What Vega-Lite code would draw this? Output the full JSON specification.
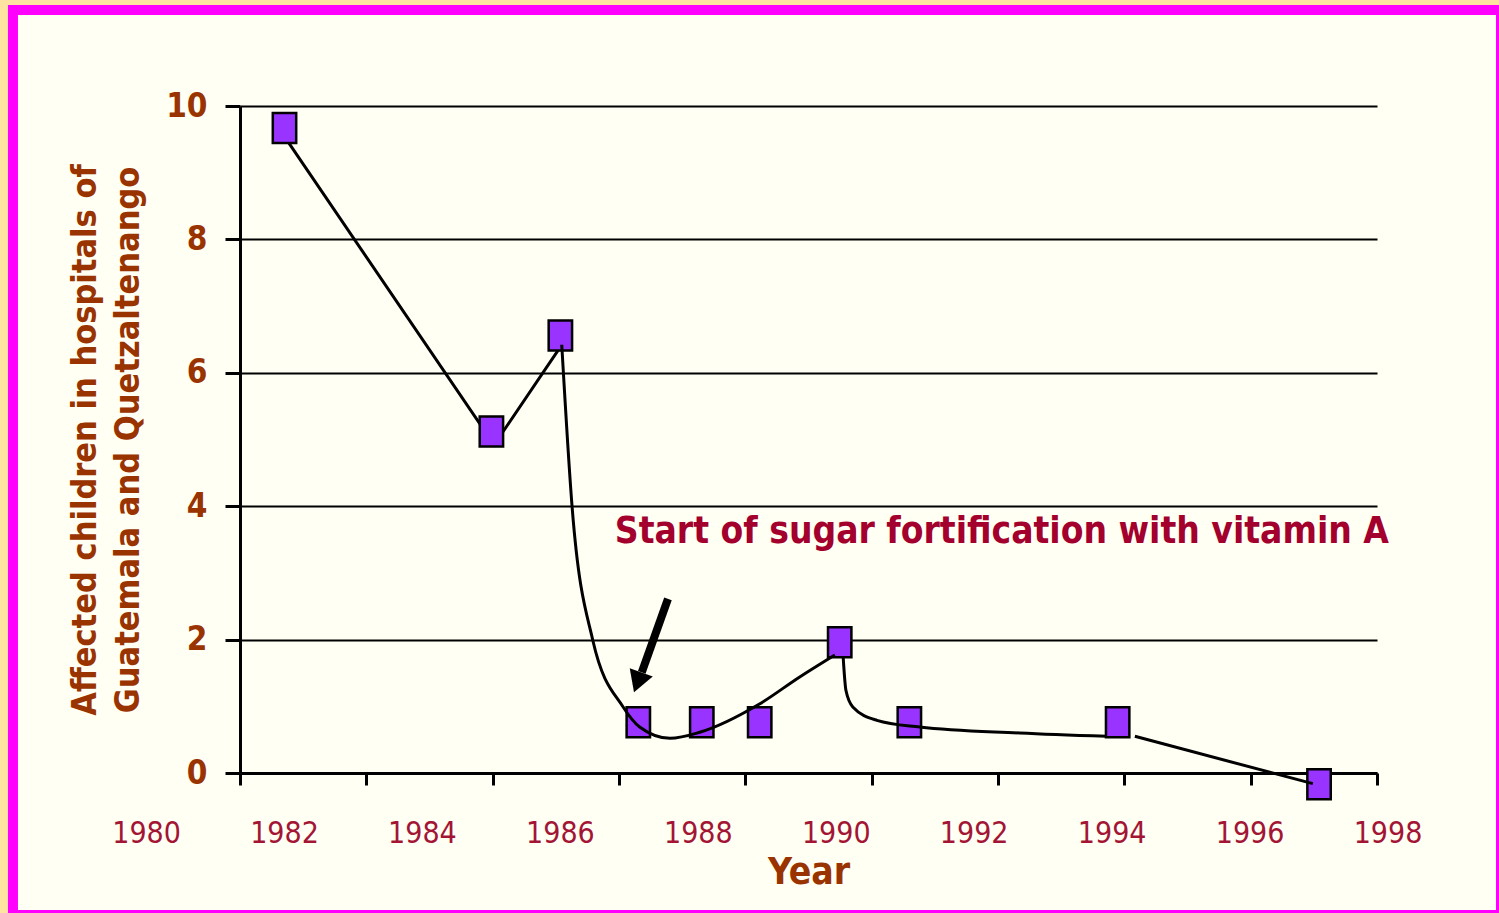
{
  "$schema": "https://vega.github.io/schema/vega-lite/v6.json",
  "width": 1137,
  "height": 667,
  "autosize": {"type": "none"},
  "padding": {"left": 240, "top": 106, "right": 122, "bottom": 140},
  "background": "#FFFFF4",
  "config": {
    "view": {"stroke": null},
    "font": "DejaVu Sans Condensed, DejaVu Sans, sans-serif"
  },
  "datasets": {
    "frame": [
      {"name": "outer", "year": 1977.875, "year2": 1999.91, "value": 11.634, "value2": -2.43},
      {"name": "border", "year": 1978.063, "year2": 1999.638, "value": 11.44, "value2": -2.13}
    ],
    "markers": [
      {"year": 1982.0, "value": 9.67},
      {"year": 1985.0, "value": 5.12},
      {"year": 1986.0, "value": 6.56},
      {"year": 1987.13, "value": 0.76},
      {"year": 1988.05, "value": 0.76},
      {"year": 1988.89, "value": 0.76},
      {"year": 1990.05, "value": 1.96},
      {"year": 1991.06, "value": 0.76},
      {"year": 1994.08, "value": 0.76},
      {"year": 1997.0, "value": -0.17}
    ],
    "curve": [
      {"segment": "A1", "year": 1982.0, "value": 9.54},
      {"segment": "A1", "year": 1985.04, "value": 4.92},
      {"segment": "A1", "year": 1986.02, "value": 6.42},
      {"segment": "A2", "year": 1986.02, "value": 6.42},
      {"segment": "A2", "year": 1986.17, "value": 3.99},
      {"segment": "A2", "year": 1986.47, "value": 1.99},
      {"segment": "A2", "year": 1986.91, "value": 0.99},
      {"segment": "A2", "year": 1987.15, "value": 0.69},
      {"segment": "A2", "year": 1987.59, "value": 0.52},
      {"segment": "A2", "year": 1988.02, "value": 0.61},
      {"segment": "A2", "year": 1988.88, "value": 1.03},
      {"segment": "A2", "year": 1989.47, "value": 1.44},
      {"segment": "A2", "year": 1989.98, "value": 1.77},
      {"segment": "B", "year": 1990.1, "value": 1.74},
      {"segment": "B", "year": 1990.14, "value": 1.24},
      {"segment": "B", "year": 1990.24, "value": 0.99},
      {"segment": "B", "year": 1990.59, "value": 0.79},
      {"segment": "B", "year": 1991.21, "value": 0.69},
      {"segment": "B", "year": 1992.66, "value": 0.6},
      {"segment": "B", "year": 1993.92, "value": 0.55},
      {"segment": "C", "year": 1994.33, "value": 0.55},
      {"segment": "C", "year": 1996.91, "value": -0.16}
    ],
    "arrow": [
      {"year": 1987.56, "value": 2.61, "year2": 1987.18, "value2": 1.51}
    ],
    "arrowhead": [
      {"year": 1987.12, "value": 1.36}
    ],
    "note": [
      {"year": 1986.79, "value": 3.61, "text": "Start of sugar fortification with vitamin A"}
    ],
    "ticklabels": [
      {"year": 1980, "label": "1980"},
      {"year": 1982, "label": "1982"},
      {"year": 1984, "label": "1984"},
      {"year": 1986, "label": "1986"},
      {"year": 1988, "label": "1988"},
      {"year": 1990, "label": "1990"},
      {"year": 1992, "label": "1992"},
      {"year": 1994, "label": "1994"},
      {"year": 1996, "label": "1996"},
      {"year": 1998, "label": "1998"}
    ]
  },
  "encoding": {
    "x": {
      "field": "year",
      "type": "quantitative",
      "scale": {"domain": [1981.3548, 1997.8403], "nice": false, "zero": false},
      "axis": {
        "values": [1981.355, 1983.1865, 1985.0182, 1986.8499, 1988.6816, 1990.5133, 1992.345, 1994.1767, 1996.0084, 1997.84],
        "labels": false,
        "grid": false,
        "domain": true,
        "domainColor": "black",
        "domainWidth": 3,
        "ticks": true,
        "tickColor": "black",
        "tickSize": 12,
        "tickWidth": 3,
        "title": "Year",
        "titleFont": "DejaVu Sans Condensed, DejaVu Sans, sans-serif",
        "titleFontSize": 37,
        "titleFontWeight": "bold",
        "titleColor": "#993300",
        "titlePadding": 68
      }
    }
  },
  "layer": [
    {
      "encoding": {
        "y": {
          "field": "value",
          "type": "quantitative",
          "scale": {"domain": [0, 10], "nice": false, "zero": false},
          "axis": {
            "values": [0, 2, 4, 6, 8, 10],
            "format": "d",
            "grid": true,
            "gridColor": "black",
            "gridWidth": 2,
            "gridOpacity": 1,
            "domain": true,
            "domainColor": "black",
            "domainWidth": 3,
            "ticks": true,
            "tickColor": "black",
            "tickSize": 15,
            "tickWidth": 3,
            "labelFont": "DejaVu Sans Condensed, DejaVu Sans, sans-serif",
            "labelFontSize": 33,
            "labelFontWeight": "bold",
            "labelColor": "#993300",
            "labelPadding": 18,
            "title": ["Affected children in hospitals of", "Guatemala and Quetzaltenango"],
            "titleFont": "DejaVu Sans Condensed, DejaVu Sans, sans-serif",
            "titleFontSize": 34,
            "titleFontWeight": "bold",
            "titleColor": "#993300",
            "titleLineHeight": 43,
            "titlePadding": 20
          }
        }
      },
      "layer": [
        {
          "data": {"name": "frame"},
          "transform": [{"filter": "datum.name === 'outer'"}],
          "mark": {"type": "rect", "filled": false, "stroke": "#FFE3A0", "strokeWidth": 16},
          "encoding": {"x2": {"field": "year2"}, "y2": {"field": "value2"}}
        },
        {
          "data": {"name": "frame"},
          "transform": [{"filter": "datum.name === 'border'"}],
          "mark": {"type": "rect", "filled": false, "stroke": "#FF00FF", "strokeWidth": 10},
          "encoding": {"x2": {"field": "year2"}, "y2": {"field": "value2"}}
        },
        {
          "data": {"name": "curve"},
          "transform": [{"filter": "datum.segment === 'A1'"}],
          "mark": {"type": "line", "color": "black", "strokeWidth": 3, "interpolate": "linear"},
          "encoding": {"detail": {"field": "segment"}}
        },
        {
          "data": {"name": "markers"},
          "mark": {
            "type": "point",
            "shape": "M-0.78,-1H0.78V1H-0.78Z",
            "size": 900,
            "filled": true,
            "fill": "#9933FF",
            "fillOpacity": 1,
            "stroke": "black",
            "strokeWidth": 2.5,
            "opacity": 1
          }
        },
        {
          "data": {"name": "curve"},
          "transform": [{"filter": "datum.segment !== 'A1'"}],
          "mark": {"type": "line", "color": "black", "strokeWidth": 3, "interpolate": "monotone"},
          "encoding": {"detail": {"field": "segment"}}
        },
        {
          "data": {"name": "arrow"},
          "mark": {"type": "rule", "color": "black", "strokeWidth": 8, "strokeCap": "butt"},
          "encoding": {"x2": {"field": "year2"}, "y2": {"field": "value2"}}
        },
        {
          "data": {"name": "arrowhead"},
          "mark": {"type": "point", "shape": "triangle-down", "angle": 20, "size": 600, "filled": true, "fill": "black", "stroke": null, "opacity": 1}
        },
        {
          "data": {"name": "note"},
          "mark": {"type": "text", "align": "left", "baseline": "middle", "fontSize": 36.8, "fontWeight": "bold", "color": "#A3002D", "font": "DejaVu Sans Condensed, DejaVu Sans, sans-serif"},
          "encoding": {"text": {"field": "text"}}
        }
      ]
    },
    {
      "data": {"name": "ticklabels"},
      "mark": {"type": "text", "align": "center", "baseline": "middle", "fontSize": 30, "color": "#A31535", "font": "DejaVu Sans Condensed, DejaVu Sans, sans-serif"},
      "encoding": {
        "y": {"datum": -0.92, "title": ["Affected children in hospitals of", "Guatemala and Quetzaltenango"]},
        "text": {"field": "label"}
      }
    }
  ]
}
